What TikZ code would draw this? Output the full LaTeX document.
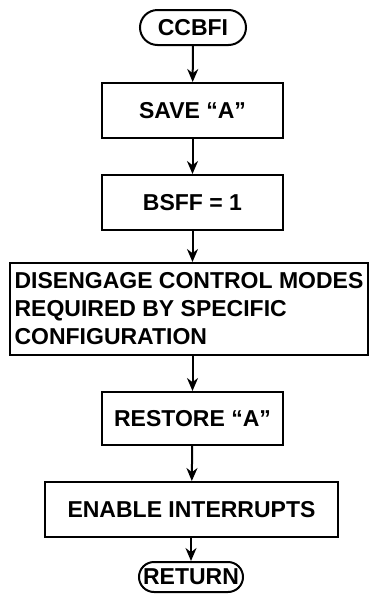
\documentclass[tikz,border=0pt]{standalone}
\usepackage{fontspec}
\setmainfont{Liberation Sans}
\usetikzlibrary{shapes.misc, arrows.meta}

\begin{document}
\begin{tikzpicture}[x=1pt, y=-1pt,
		box/.style={draw, line width=2pt, minimum width=181pt, minimum height=55pt, inner sep=2pt,
			font=\fontsize{23}{28}\selectfont\bfseries},
		term/.style={box, rounded rectangle, minimum width=110pt, minimum height=35pt},
		flow/.style={line width=2pt, -{Stealth[length=13pt, width=11pt]}}]
		\useasboundingbox (0,0) rectangle (370,611);
		
		\node[term] (ccbfi) at (193,27.5) {CCBFI};  % entry 
		\node[box] (save) at (192.5,110.5) {SAVE ``A''};  % step 1 
		\node[box] (bsff) at (192.5,202.5) {BSFF = 1};  % step 2 
		\node[box, minimum width=358pt, minimum height=92pt, align=left] (disengage) at (189,309)
			{DISENGAGE CONTROL MODES\\REQUIRED BY SPECIFIC\\CONFIGURATION};  % step 3 
		\node[box, minimum height=53pt] (restore) at (192.5,418.5) {RESTORE ``A''};  % step 4 
		\node[box, minimum width=293pt] (enable) at (191.5,509.5) {ENABLE INTERRUPTS};  % step 5 
		\node[term, minimum width=108pt, minimum height=30pt] (return) at (191,577) {RETURN};  % exit 
		
		\draw[flow] (ccbfi) -- (save);
		\draw[flow] (save) -- (bsff);
		\draw[flow] (bsff.south) -- (bsff.south |- disengage.north);
		\draw[flow] (disengage.south -| restore.north) -- (restore);
		\draw[flow] (restore) -- (enable);
		\draw[flow] (enable.south -| return.north) -- (return);
		
	\end{tikzpicture}
\end{document}
